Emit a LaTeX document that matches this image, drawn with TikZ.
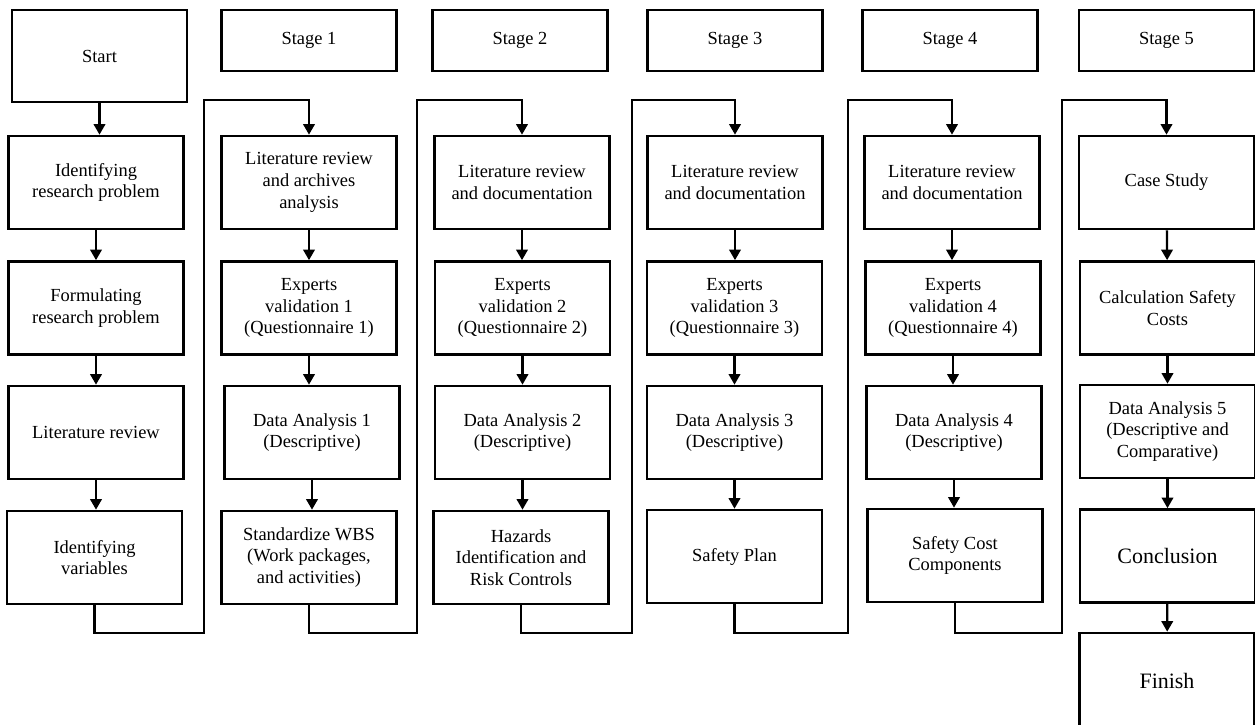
\documentclass[tikz,border=0pt]{standalone}
\usepackage{fontspec}
\setmainfont{Liberation Serif}
\usetikzlibrary{arrows.meta}
\tikzset{
  box/.style={draw, line width=1.5pt, minimum width=3.5cm, minimum height=1.86cm, align=center, inner sep=2pt, font=\fontsize{10.5}{12.4}\selectfont},
  stagebox/.style={box, minimum height=1.22cm},
  flow/.style={line width=1.3pt, -{Triangle[length=6pt,width=6.5pt]}}
}
\begin{document}
\begin{tikzpicture}
  \useasboundingbox (0,0) rectangle (25.1,-14.5);
  % inicio
  \node[box, minimum height=1.84cm] (start) at (1.99,-1.12) {Start};
  \node[box] (irp) at (1.92,-3.65) {Identifying\\research problem};
  \node[box] (frp) at (1.92,-6.16) {Formulating\\research problem};
  \node[box] (lr) at (1.92,-8.65) {Literature review};
  \node[box] (iv) at (1.89,-11.15) {Identifying\\variables};
  % etapa 1
  \node[stagebox] (st1) at (6.18,-0.81) {Stage 1};
  \node[box] (lit1) at (6.18,-3.65) {Literature review\\and archives\\analysis};
  \node[box] (exp1) at (6.18,-6.16) {Experts\\validation 1\\(Questionnaire 1)};
  \node[box] (da1) at (6.24,-8.65) {Data Analysis 1\\(Descriptive)};
  \node[box] (wbs) at (6.18,-11.15) {Standardize WBS\\(Work packages,\\and activities)};
  % etapa 2
  \node[stagebox] (st2) at (10.40,-0.81) {Stage 2};
  \node[box] (lit2) at (10.44,-3.65) {Literature review\\and documentation};
  \node[box] (exp2) at (10.45,-6.16) {Experts\\validation 2\\(Questionnaire 2)};
  \node[box] (da2) at (10.45,-8.65) {Data Analysis 2\\(Descriptive)};
  \node[box] (haz) at (10.42,-11.15) {Hazards\\Identification and\\Risk Controls};
  % etapa 3
  \node[stagebox] (st3) at (14.70,-0.81) {Stage 3};
  \node[box] (lit3) at (14.70,-3.65) {Literature review\\and documentation};
  \node[box] (exp3) at (14.69,-6.16) {Experts\\validation 3\\(Questionnaire 3)};
  \node[box] (da3) at (14.69,-8.65) {Data Analysis 3\\(Descriptive)};
  \node[box] (sp) at (14.69,-11.13) {Safety Plan};
  % etapa 4
  \node[stagebox] (st4) at (19.00,-0.81) {Stage 4};
  \node[box] (lit4) at (19.04,-3.65) {Literature review\\and documentation};
  \node[box] (exp4) at (19.06,-6.16) {Experts\\validation 4\\(Questionnaire 4)};
  \node[box] (da4) at (19.08,-8.65) {Data Analysis 4\\(Descriptive)};
  \node[box] (scc) at (19.10,-11.11) {Safety Cost\\Components};
  % etapa 5
  \node[stagebox] (st5) at (23.33,-0.81) {Stage 5};
  \node[box] (cs) at (23.33,-3.65) {Case Study};
  \node[box] (calc) at (23.35,-6.16) {Calculation Safety\\Costs};
  \node[box] (da5) at (23.35,-8.63) {Data Analysis 5\\(Descriptive and\\Comparative)};
  \node[box, font=\fontsize{12.5}{15}\selectfont] (conc) at (23.35,-11.12) {Conclusion};
  \node[box, minimum height=1.92cm, font=\fontsize{12.5}{15}\selectfont] (fin) at (23.34,-13.62) {Finish};
  % esquinas de los enlaces
  \coordinate (b0) at (4.08,-12.66);  \coordinate (t0) at (4.08,-2.0);
  \coordinate (b1) at (8.34,-12.66);  \coordinate (t1) at (8.34,-2.0);
  \coordinate (b2) at (12.64,-12.66); \coordinate (t2) at (12.64,-2.0);
  \coordinate (b3) at (16.96,-12.66); \coordinate (t3) at (16.96,-2.0);
  \coordinate (b4) at (21.24,-12.66); \coordinate (t4) at (21.24,-2.0);
  % flechas
  \draw[flow] (start) -- (start|-irp.north);
  \draw[flow] (irp) -- (frp);
  \draw[flow] (frp) -- (lr);
  \draw[flow] (lr) -- (lr|-iv.north);
  \draw[flow] (iv.south) |- (b0) -- (t0) -| (lit1.north);
  \draw[flow] (lit1) -- (exp1);
  \draw[flow] (exp1) -- (exp1|-da1.north);
  \draw[flow] (da1) -- (da1|-wbs.north);
  \draw[flow] (wbs.south) |- (b1) -- (t1) -| (lit2.north);
  \draw[flow] (lit2) -- (lit2|-exp2.north);
  \draw[flow] (exp2) -- (exp2|-da2.north);
  \draw[flow] (da2) -- (da2|-haz.north);
  \draw[flow] (haz.south) |- (b2) -- (t2) -| (lit3.north);
  \draw[flow] (lit3) -- (lit3|-exp3.north);
  \draw[flow] (exp3) -- (da3);
  \draw[flow] (da3) -- (sp);
  \draw[flow] (sp.south) |- (b3) -- (t3) -| (lit4.north);
  \draw[flow] (lit4) -- (lit4|-exp4.north);
  \draw[flow] (exp4) -- (exp4|-da4.north);
  \draw[flow] (da4) -- (da4|-scc.north);
  \draw[flow] (scc.south) |- (b4) -- (t4) -| (cs.north);
  \draw[flow] (cs) -- (calc);
  \draw[flow] (calc) -- (da5);
  \draw[flow] (da5) -- (conc);
  \draw[flow] (conc) -- (fin);
\end{tikzpicture}
\end{document}
